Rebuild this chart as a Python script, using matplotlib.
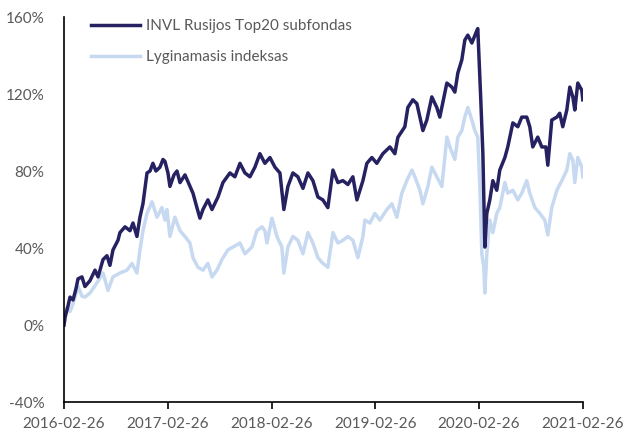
import matplotlib
matplotlib.use("Agg")
import matplotlib.pyplot as plt
import matplotlib.dates as mdates
import numpy as np
import pandas as pd

# years since 2016-02-26, return in %
fund_years = [0, 0.010, 0.039, 0.058, 0.087, 0.116, 0.135, 0.173, 0.202, 0.250,
              0.299, 0.328, 0.376, 0.414, 0.443, 0.472, 0.520, 0.539, 0.588, 0.636,
              0.665, 0.703, 0.732, 0.761, 0.800, 0.829, 0.857, 0.886, 0.925, 0.954,
              0.973, 1.002, 1.021, 1.060, 1.089, 1.118, 1.166, 1.214, 1.243, 1.281,
              1.310, 1.339, 1.387, 1.426, 1.484, 1.532, 1.599, 1.647, 1.696, 1.744,
              1.792, 1.840, 1.888, 1.936, 1.985, 2.033, 2.081, 2.119, 2.158, 2.206,
              2.254, 2.303, 2.351, 2.399, 2.447, 2.495, 2.543, 2.592, 2.640, 2.688,
              2.736, 2.784, 2.823, 2.852, 2.881, 2.919, 2.967, 3.015, 3.073, 3.141,
              3.189, 3.218, 3.285, 3.314, 3.362, 3.401, 3.430, 3.459, 3.497, 3.545,
              3.593, 3.622, 3.690, 3.738, 3.767, 3.796, 3.834, 3.863, 3.892, 3.931,
              3.979, 3.988, 4.017, 4.037, 4.056, 4.075, 4.104, 4.133, 4.171, 4.200,
              4.249, 4.277, 4.326, 4.374, 4.412, 4.460, 4.489, 4.518, 4.566, 4.605,
              4.644, 4.663, 4.701, 4.750, 4.778, 4.807, 4.846, 4.875, 4.904, 4.923,
              4.952, 4.990, 5.000]
fund_vals = [0, 4, 10, 14.5, 13, 19, 24, 25, 20, 23,
             28.5, 25, 34, 36, 31, 39, 44, 48, 51, 49,
             53, 46, 56, 63, 79, 80, 84, 80, 82, 86,
             85, 79, 72, 78, 80, 74, 78, 72, 68.5, 61,
             55.5, 60, 65, 60, 66.5, 74, 79, 77, 84, 79,
             77, 82, 89, 84, 87, 82, 79, 60, 72, 79,
             77, 71, 79, 75, 66.5, 65, 61, 80.5, 74, 75,
             73, 77, 65, 70, 75, 84, 87, 84, 89, 92.5,
             89, 97.5, 103, 113, 117, 115, 108, 101, 106.5, 118.5,
             113, 108, 125.7, 123.6, 121, 131, 137.7, 148, 150.6, 146.5,
             153, 154, 117, 89, 40.5, 58, 65, 75, 70, 80.5,
             87, 92.5, 105, 103, 108, 108, 103, 92.5, 97.6, 92.5,
             92.5, 83, 106.5, 108, 110, 103, 111.7, 123.6, 118.5, 111.7,
             125.7, 122, 117]

bench_years = [0, 0.029, 0.058, 0.087, 0.135, 0.173, 0.202, 0.250, 0.318, 0.376,
               0.424, 0.472, 0.539, 0.607, 0.655, 0.703, 0.732, 0.761, 0.800, 0.848,
               0.896, 0.944, 0.973, 0.992, 1.021, 1.069, 1.118, 1.166, 1.214, 1.243,
               1.291, 1.339, 1.387, 1.426, 1.474, 1.522, 1.580, 1.628, 1.696, 1.744,
               1.811, 1.859, 1.908, 1.936, 1.956, 2.004, 2.052, 2.100, 2.119, 2.158,
               2.206, 2.254, 2.303, 2.351, 2.399, 2.447, 2.495, 2.543, 2.592, 2.640,
               2.688, 2.736, 2.784, 2.832, 2.881, 2.900, 2.948, 2.996, 3.044, 3.112,
               3.160, 3.208, 3.256, 3.304, 3.353, 3.382, 3.430, 3.459, 3.507, 3.545,
               3.593, 3.642, 3.690, 3.719, 3.767, 3.796, 3.834, 3.863, 3.892, 3.931,
               3.960, 3.988, 4.008, 4.027, 4.046, 4.056, 4.075, 4.104, 4.133, 4.171,
               4.200, 4.249, 4.277, 4.326, 4.374, 4.412, 4.460, 4.489, 4.538, 4.586,
               4.634, 4.663, 4.701, 4.750, 4.798, 4.846, 4.875, 4.904, 4.923, 4.952,
               4.990, 5.000]
bench_vals = [0, 9, 7, 11, 20, 15, 14.5, 16.6, 22, 27,
              18, 25, 27, 28.5, 32, 27, 39, 49, 58, 64,
              56, 61, 54.5, 60, 46, 56, 49, 46, 42.6, 35,
              30, 28.5, 32, 25, 28.5, 34, 39, 40.5, 42.6, 37,
              40.5, 49, 51, 49, 42.6, 55.5, 46, 40.5, 27, 40.5,
              46, 44, 37, 48, 42.6, 35, 32, 30, 48, 42.6,
              44, 46, 44, 35, 46, 54.5, 53, 58, 54.5, 60,
              63, 56, 68.5, 75, 80.5, 77, 70, 63, 72, 82,
              77, 72, 97.6, 92.5, 86, 97.6, 101, 108, 113, 106.5,
              101, 97.6, 72, 37, 30, 16.6, 37, 54.5, 48, 58,
              61, 74, 68.5, 70, 65, 68.5, 75, 68.5, 61, 58,
              54.5, 46.8, 61, 70, 75, 80.5, 89, 85.7, 74, 87,
              82, 77]

start = pd.Timestamp("2016-02-26")
tick_dates = pd.to_datetime(["2016-02-26", "2017-02-26", "2018-02-26",
                             "2019-02-26", "2020-02-26", "2021-02-26"])
fund_dates = start + pd.to_timedelta(np.array(fund_years) * 365.25, unit="D")
bench_dates = start + pd.to_timedelta(np.array(bench_years) * 365.25, unit="D")

plt.rcParams['font.family'] = ['Lato', 'DejaVu Sans']
fig = plt.figure(figsize=(6.25, 4.32), dpi=100)
ax = fig.add_axes([0.1024, 0.0694, 0.8304, 0.8912])

l2, = ax.plot(bench_dates, bench_vals, color="#c6d9f1", lw=2.5,
              label="Lyginamasis indeksas")
l1, = ax.plot(fund_dates, fund_vals, color="#262262", lw=2.5,
              label="INVL Rusijos Top20 subfondas")

ax.set_xlim(tick_dates[0], tick_dates[-1])
ax.set_ylim(-40, 160)
ax.set_yticks(np.arange(-40, 161, 40))
ax.set_yticklabels(["{:.0f}%".format(v) for v in np.arange(-40, 161, 40)])
ax.set_xticks(tick_dates)
ax.xaxis.set_major_formatter(mdates.DateFormatter("%Y-%m-%d"))

for s in ["top", "right"]:
    ax.spines[s].set_visible(False)
ax.spines["left"].set_color("black")
ax.spines["bottom"].set_color("black")
ax.spines["left"].set_linewidth(1.2)
ax.spines["bottom"].set_linewidth(1.2)
ax.tick_params(axis="y", length=0, pad=14, labelsize=11, labelcolor="#595959")
ax.tick_params(axis="x", length=5, width=1.2, pad=6, labelsize=11,
               labelcolor="#595959")

ax.legend(handles=[l1, l2], loc="upper left", bbox_to_anchor=(0.025, 1.03),
          frameon=False, handlelength=3.2, handletextpad=0.4,
          labelspacing=1.1, fontsize=11, labelcolor="#595959")

fig.savefig("out.png", dpi=100)
